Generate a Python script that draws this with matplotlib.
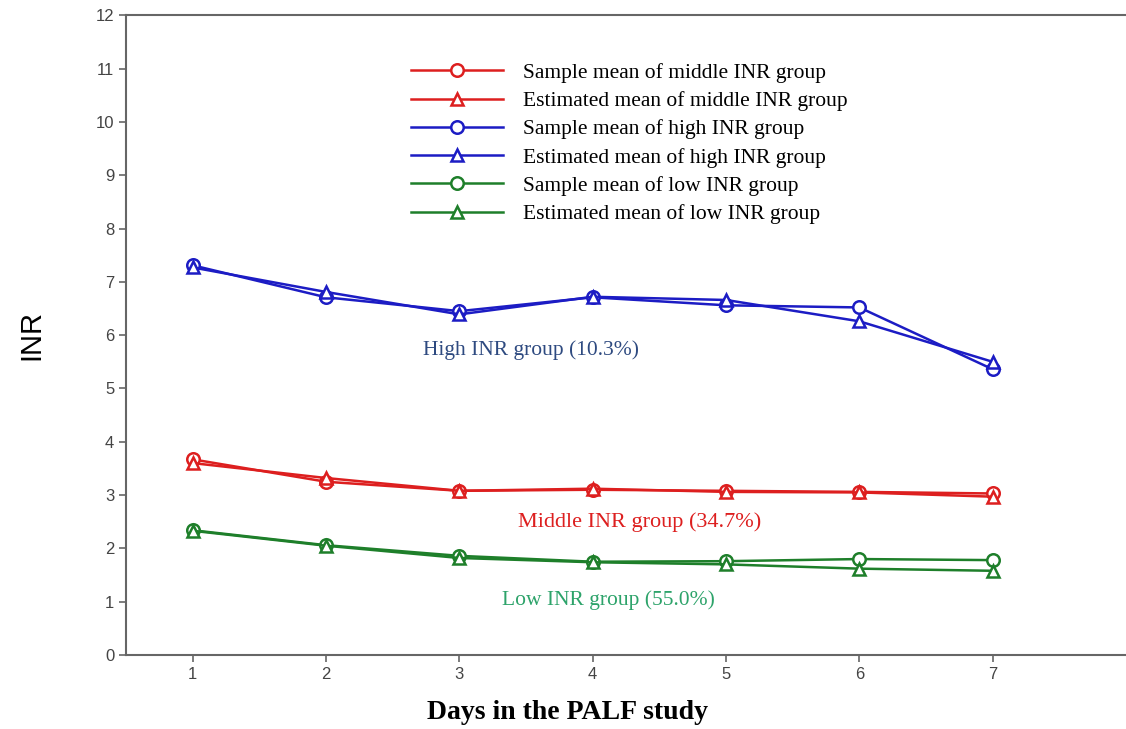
import numpy as np
import matplotlib.pyplot as plt

days = [1, 2, 3, 4, 5, 6, 7]

# INR means
mid_sample = [3.67, 3.25, 3.08, 3.10, 3.08, 3.06, 3.03]
mid_est = [3.60, 3.32, 3.08, 3.12, 3.06, 3.05, 2.97]
high_sample = [7.31, 6.71, 6.45, 6.71, 6.56, 6.52, 5.36]
high_est = [7.27, 6.81, 6.39, 6.72, 6.66, 6.26, 5.50]
low_sample = [2.34, 2.06, 1.86, 1.75, 1.76, 1.80, 1.78]
low_est = [2.33, 2.05, 1.82, 1.74, 1.70, 1.62, 1.58]

red = '#dd1f1f'
blue = '#1c1cc4'
green = '#1e7f2a'

serif = ['Liberation Serif', 'DejaVu Serif']
sans = ['Liberation Sans', 'DejaVu Sans']

fig = plt.figure(figsize=(11.26, 7.29), dpi=100)
ax = fig.add_axes([0.112, 0.1015, 0.888, 0.8775])

series = [
    (mid_sample, red, 'o', 'Sample mean of middle INR group'),
    (mid_est, red, '^', 'Estimated mean of middle INR group'),
    (high_sample, blue, 'o', 'Sample mean of high INR group'),
    (high_est, blue, '^', 'Estimated mean of high INR group'),
    (low_sample, green, 'o', 'Sample mean of low INR group'),
    (low_est, green, '^', 'Estimated mean of low INR group'),
]

for vals, col, mk, lab in series:
    ax.plot(days, vals, color=col, lw=1.8, marker=mk, markersize=9,
            markerfacecolor='white', markeredgecolor=col, markeredgewidth=1.8,
            label=lab)

# group labels
ax.text(3.54, 5.72, 'High INR group (10.3%)', color='#2e4a80', fontsize=15.5,
        family=serif, ha='center', va='center')
ax.text(4.35, 2.49, 'Middle INR group (34.7%)', color=red, fontsize=16,
        family=serif, ha='center', va='center')
ax.text(4.12, 1.03, 'Low INR group (55.0%)', color='#2da36a', fontsize=15.5,
        family=serif, ha='center', va='center')

ax.set_xlim(0.5, 8.0)
ax.set_ylim(0, 12)
ax.set_xticks(days)
ax.set_yticks(np.arange(0, 13, 1))

for s in ['left', 'bottom', 'top']:
    ax.spines[s].set_color('#666666')
    ax.spines[s].set_linewidth(1.5)
ax.spines['right'].set_visible(False)
ax.tick_params(direction='out', length=5, width=1.2, color='#666666',
               labelcolor='#444444', labelsize=12)
for t in ax.get_xticklabels() + ax.get_yticklabels():
    t.set_family(sans)

ax.set_xlabel('Days in the PALF study', fontsize=20, fontweight='bold',
              family=serif)
ax.xaxis.set_label_coords(0.441, -0.07)
ax.set_ylabel('INR', fontsize=21, family=sans)
ax.yaxis.set_label_coords(-0.081, 0.5)

leg = ax.legend(loc='upper left', bbox_to_anchor=(400 / 1126, 1 - 52 / 729),
                bbox_transform=fig.transFigure, frameon=False, numpoints=1,
                handlelength=4.3, handletextpad=0.9, labelspacing=0.38,
                borderpad=0, prop={'family': serif, 'size': 15.5})

fig.savefig('out.png', dpi=100)
